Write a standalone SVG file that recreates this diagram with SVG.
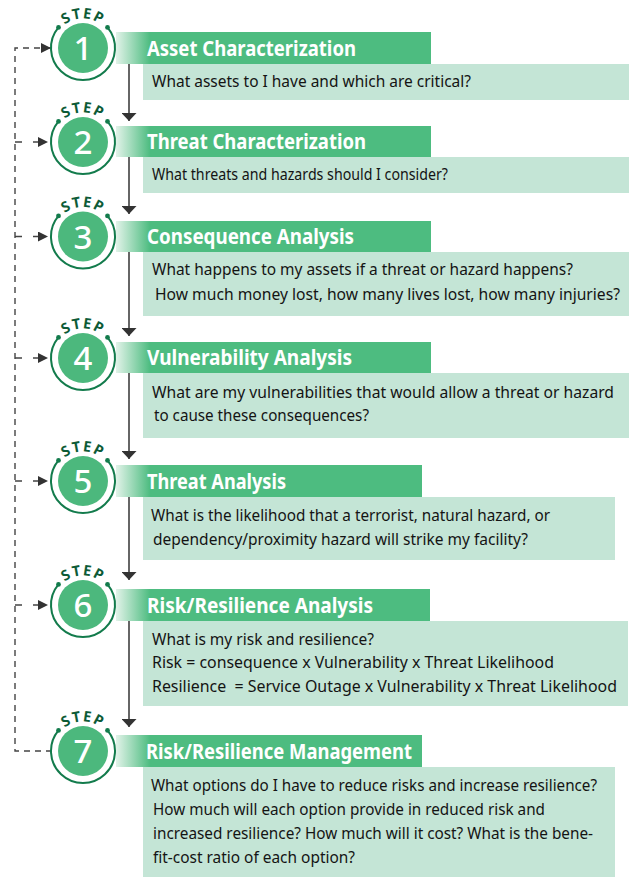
<svg xmlns="http://www.w3.org/2000/svg" xmlns:xlink="http://www.w3.org/1999/xlink" width="636" height="877" viewBox="0 0 636 877">
<style>
.bar{fill:url(#barGrad)}
.desc{fill:#c4e5d6}
.title{font-family:"Noto Sans","Open Sans",sans-serif;font-weight:bold;font-size:21px;fill:#ffffff}
.txt{font-family:"Noto Sans","Open Sans",sans-serif;font-size:17px;fill:#141414;white-space:pre}
.num{font-family:"Noto Sans","Open Sans",sans-serif;font-weight:500;font-size:33px;fill:#ffffff;text-anchor:middle}
.step{font-family:"Noto Sans","Open Sans",sans-serif;font-weight:bold;font-size:14.5px;fill:#0d5b37;letter-spacing:1.5px}
.fillc{fill:#4cb87d}
.ring{fill:none;stroke:#137b4c;stroke-width:2}
.dot{fill:#137b4c}
.flow{stroke:#333333;stroke-width:1.5;fill:none;marker-end:url(#arrowDown)}
.loop{stroke:#444444;stroke-width:1.4;fill:none;stroke-dasharray:6 5}
.tick{stroke:#444444;stroke-width:1.4;fill:none;stroke-dasharray:7 11;marker-end:url(#arrowSide)}
</style>
<defs>
<linearGradient id="barGrad" gradientUnits="userSpaceOnUse" x1="116" y1="0" x2="150" y2="0">
<stop offset="0" stop-color="#e2f3e9"/>
<stop offset="1" stop-color="#4dbc80"/>
</linearGradient>
<path id="stepArc" d="M -26 -14 A 29.5 29.5 0 0 1 26 -14"/>
<marker id="arrowDown" viewBox="0 0 10 10" refX="10" refY="5" markerWidth="8" markerHeight="15" markerUnits="userSpaceOnUse" orient="auto" preserveAspectRatio="none">
<path d="M0,0 L10,5 L0,10 z" fill="#333333"/>
</marker>
<marker id="arrowSide" viewBox="0 0 10 10" refX="10" refY="5" markerWidth="10" markerHeight="10" markerUnits="userSpaceOnUse" orient="auto" preserveAspectRatio="none">
<path d="M0,0 L10,5 L0,10 z" fill="#333333"/>
</marker>
<g id="badge">
<circle class="fillc" r="25"/>
<path class="ring" d="M -24.5 -20.6 A 32 32 0 1 0 24.5 -20.6"/>
<circle class="dot" cx="-24.5" cy="-20.6" r="2.4"/>
<circle class="dot" cx="24.5" cy="-20.6" r="2.4"/>
<text class="step"><textPath href="#stepArc" xlink:href="#stepArc" startOffset="50%" text-anchor="middle">STEP</textPath></text>
</g>
</defs>
<rect width="636" height="877" fill="#ffffff"/>

<g id="connectors">
<path class="flow" d="M129 64 V121"/>
<path class="flow" d="M129 157 V214"/>
<path class="flow" d="M129 252 V336"/>
<path class="flow" d="M129 373 V459"/>
<path class="flow" d="M129 497 V580"/>
<path class="flow" d="M129 621 V727"/>
<path class="loop" d="M52 751 H15 V48 H51" marker-end="url(#arrowSide)"/>
<path class="tick" d="M15 142 H48"/>
<path class="tick" d="M15 236.5 H48"/>
<path class="tick" d="M15 358 H48"/>
<path class="tick" d="M15 481 H48"/>
<path class="tick" d="M15 605 H48"/>
</g>

<g id="step1">
<rect class="bar" x="116" y="32" width="315" height="32"/>
<rect class="desc" x="143" y="64" width="486" height="36"/>
<g transform="translate(83 48)"><use href="#badge" xlink:href="#badge"/><text class="num" y="12">1</text></g>
<text class="title" transform="translate(147 55.5) scale(0.8 1)" textLength="261.25" lengthAdjust="spacingAndGlyphs">Asset Characterization</text>
<text class="txt" transform="translate(152 87) scale(0.8 1)" textLength="398.75" lengthAdjust="spacingAndGlyphs">What assets to I have and which are critical?</text>
</g>

<g id="step2">
<rect class="bar" x="116" y="126" width="315" height="31"/>
<rect class="desc" x="143" y="157" width="486" height="36"/>
<g transform="translate(83 142)"><use href="#badge" xlink:href="#badge"/><text class="num" y="12">2</text></g>
<text class="title" transform="translate(147 149) scale(0.8 1)" textLength="273.75" lengthAdjust="spacingAndGlyphs">Threat Characterization</text>
<text class="txt" transform="translate(152 180) scale(0.8 1)" textLength="370" lengthAdjust="spacingAndGlyphs">What threats and hazards should I consider?</text>
</g>

<g id="step3">
<rect class="bar" x="116" y="221" width="315" height="31"/>
<rect class="desc" x="143" y="252" width="486" height="64"/>
<g transform="translate(83 236.5)"><use href="#badge" xlink:href="#badge"/><text class="num" y="12">3</text></g>
<text class="title" transform="translate(147 244) scale(0.8 1)" textLength="258.75" lengthAdjust="spacingAndGlyphs">Consequence Analysis</text>
<text class="txt" transform="translate(152 275) scale(0.8 1)" textLength="526.25" lengthAdjust="spacingAndGlyphs">What happens to my assets if a threat or hazard happens?</text>
<text class="txt" transform="translate(155 300) scale(0.8 1)" textLength="581.25" lengthAdjust="spacingAndGlyphs">How much money lost, how many lives lost, how many injuries?</text>
</g>

<g id="step4">
<rect class="bar" x="116" y="342" width="315" height="31"/>
<rect class="desc" x="143" y="373" width="486" height="65"/>
<g transform="translate(83 358)"><use href="#badge" xlink:href="#badge"/><text class="num" y="12">4</text></g>
<text class="title" transform="translate(147 365) scale(0.8 1)" textLength="256.25" lengthAdjust="spacingAndGlyphs">Vulnerability Analysis</text>
<text class="txt" transform="translate(152 398) scale(0.8 1)" textLength="577.5" lengthAdjust="spacingAndGlyphs">What are my vulnerabilities that would allow a threat or hazard</text>
<text class="txt" transform="translate(154 421) scale(0.8 1)" textLength="268.75" lengthAdjust="spacingAndGlyphs">to cause these consequences?</text>
</g>

<g id="step5">
<rect class="bar" x="116" y="465" width="306" height="32"/>
<rect class="desc" x="143" y="497" width="472" height="63"/>
<g transform="translate(83 481)"><use href="#badge" xlink:href="#badge"/><text class="num" y="12">5</text></g>
<text class="title" transform="translate(147 488.5) scale(0.8 1)" textLength="173.75" lengthAdjust="spacingAndGlyphs">Threat Analysis</text>
<text class="txt" transform="translate(151 521) scale(0.8 1)" textLength="498.75" lengthAdjust="spacingAndGlyphs">What is the likelihood that a terrorist, natural hazard, or</text>
<text class="txt" transform="translate(153 545) scale(0.8 1)" textLength="468.75" lengthAdjust="spacingAndGlyphs">dependency/proximity hazard will strike my facility?</text>
</g>

<g id="step6">
<rect class="bar" x="116" y="589" width="314" height="32"/>
<rect class="desc" x="143" y="621" width="485" height="85"/>
<g transform="translate(83 605)"><use href="#badge" xlink:href="#badge"/><text class="num" y="12">6</text></g>
<text class="title" transform="translate(147 612.5) scale(0.8 1)" textLength="282.5" lengthAdjust="spacingAndGlyphs">Risk/Resilience Analysis</text>
<text class="txt" transform="translate(152 645) scale(0.8 1)" textLength="277.5" lengthAdjust="spacingAndGlyphs">What is my risk and resilience?</text>
<text class="txt" transform="translate(152 668) scale(0.8 1)" textLength="502.5" lengthAdjust="spacingAndGlyphs">Risk = consequence x Vulnerability x Threat Likelihood</text>
<text class="txt" transform="translate(152 692) scale(0.8 1)" textLength="581.25" lengthAdjust="spacingAndGlyphs" xml:space="preserve">Resilience  = Service Outage x Vulnerability x Threat Likelihood</text>
</g>

<g id="step7">
<rect class="bar" x="116" y="735" width="306" height="32"/>
<rect class="desc" x="143" y="767" width="472" height="110"/>
<g transform="translate(83 751)"><use href="#badge" xlink:href="#badge"/><text class="num" y="12">7</text></g>
<text class="title" transform="translate(146 758.5) scale(0.8 1)" textLength="332.5" lengthAdjust="spacingAndGlyphs">Risk/Resilience Management</text>
<text class="txt" transform="translate(151 791) scale(0.8 1)" textLength="557.5" lengthAdjust="spacingAndGlyphs">What options do I have to reduce risks and increase resilience?</text>
<text class="txt" transform="translate(153 815) scale(0.8 1)" textLength="490" lengthAdjust="spacingAndGlyphs">How much will each option provide in reduced risk and</text>
<text class="txt" transform="translate(153 839) scale(0.8 1)" textLength="550" lengthAdjust="spacingAndGlyphs">increased resilience? How much will it cost? What is the bene-</text>
<text class="txt" transform="translate(153 863) scale(0.8 1)" textLength="252.5" lengthAdjust="spacingAndGlyphs">fit-cost ratio of each option?</text>
</g>
</svg>
